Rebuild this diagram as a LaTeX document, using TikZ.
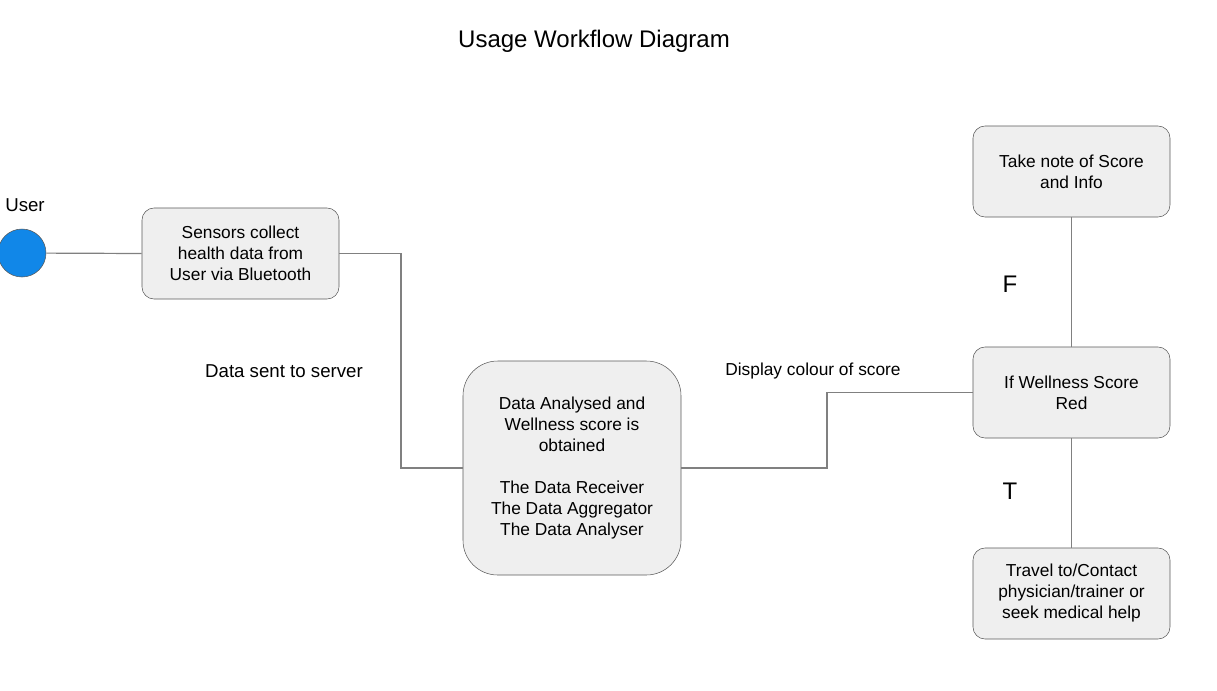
\documentclass[tikz,border=0pt]{standalone}
\usepackage{fontspec}
\setmainfont{Liberation Sans}
\usepackage{xcolor}
\usepackage{tikz}
\definecolor{boxfill}{HTML}{EFEFEF}
\definecolor{boxline}{HTML}{595959}
\definecolor{wire}{HTML}{808080}
\definecolor{userblue}{HTML}{1187E8}
\newcommand{\boxfont}{\fontsize{13}{15.75}\selectfont}

\begin{document}
\begin{tikzpicture}[x=0.75pt,y=-0.75pt,
  every node/.style={inner sep=0pt},
  box/.style={draw=boxline,fill=boxfill,rounded corners=9pt,align=center,
    minimum width=147.75pt,minimum height=68.25pt,font=\boxfont,
    execute at begin node={\rule{0pt}{12.5pt}}},
  bigbox/.style={box,rounded corners=26pt,minimum width=163.5pt,minimum height=160.5pt},
  usernode/.style={circle,draw=boxline,fill=userblue,minimum size=36pt},
  wireline/.style={draw=wire,line width=0.9pt}]
\useasboundingbox (0,0) rectangle (1217,690);
% title
\node (title) at (594,41) {\fontsize{18}{22}\selectfont Usage Workflow Diagram};
% user
\node [usernode] (user) at (22,253) {};
\node (userlbl) at (25,205) {\fontsize{14}{17}\selectfont User};
% boxes
\node [box] (sensors) at (240.5,253.5) {Sensors collect\\health data from\\User via Bluetooth};
\node [bigbox] (analysis) at (572,468) {Data Analysed and\\Wellness score is\\obtained\\[15.75pt]The Data Receiver\\The Data Aggregator\\The Data Analyser};
\node [box] (note) at (1071.5,171.5) {Take note of Score\\and Info};
\node [box] (decision) at (1071.5,392.5) {If Wellness Score\\Red};
\node [box] (travel) at (1071.5,593.5) {Travel to/Contact\\physician/trainer or\\seek medical help};
% bends
\coordinate (bendA) at (401,0);
\coordinate (bendB) at (827,0);
% connectors
\draw [wireline] (user) -- (sensors.west);
\draw [wireline] (sensors.east) -- (sensors.east -| bendA) |- (analysis.west);
\draw [wireline] (analysis.east) -- (analysis.east -| bendB) |- (decision.west);
\draw [wireline] (decision.north) -- (note.south);
\draw [wireline] (decision.south) -- (travel.north);
% labels
\node (sentlbl) at (284,371) {\fontsize{14}{17}\selectfont Data sent to server};
\node (colourlbl) at (813,371) {\boxfont Display colour of score};
\node (flbl) at (1010,284) {\fontsize{18}{22}\selectfont F};
\node (tlbl) at (1010,491) {\fontsize{18}{22}\selectfont T};
\end{tikzpicture}
\end{document}
